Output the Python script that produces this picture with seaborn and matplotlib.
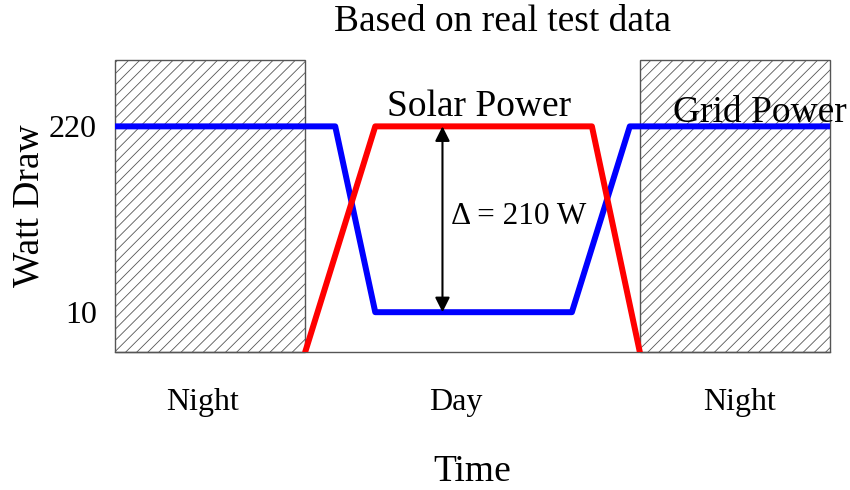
import matplotlib
matplotlib.use("Agg")
import matplotlib.pyplot as plt
import seaborn as sns
import pandas as pd
from matplotlib.patches import Rectangle

sns.set_theme(style="white")
plt.rcParams['font.family'] = ['Liberation Serif', 'DejaVu Serif']
plt.rcParams['text.color'] = 'black'
plt.rcParams['axes.labelcolor'] = 'black'
plt.rcParams['xtick.color'] = 'black'
plt.rcParams['ytick.color'] = 'black'
plt.rcParams['hatch.linewidth'] = 0.6
plt.rcParams['hatch.color'] = '#333333'

# Data (time on an arbitrary 0-100 scale, watts)
grid_time = [0, 30.8, 36.4, 63.9, 72.0, 100]
grid_watts = [220, 220, 10, 10, 220, 220]
solar_time = [26.6, 36.4, 66.7, 73.4]
solar_watts = [-35, 220, 220, -35]
night_spans = [(0, 26.6), (73.4, 100)]
period_labels = ["Night", "Day", "Night"]
period_pos = [12.2, 47.6, 87.4]
ytick_vals = [10, 220]

fig = plt.figure(figsize=(8.5, 4.9), dpi=100)
ax = fig.add_axes([115/850, 1-352/490, 715/850, 292/490])

for x0, x1 in night_spans:
    ax.add_patch(Rectangle((x0, -35), x1 - x0, 330, facecolor='white',
                           edgecolor='#555555', hatch='///', linewidth=1.0,
                           zorder=1, clip_on=False))

df_grid = pd.DataFrame({"t": grid_time, "w": grid_watts})
df_solar = pd.DataFrame({"t": solar_time, "w": solar_watts})
sns.lineplot(data=df_grid, x="t", y="w", ax=ax, color=(0, 0, 1), lw=4.3,
             sort=False, estimator=None, zorder=3)
sns.lineplot(data=df_solar, x="t", y="w", ax=ax, color=(1, 0, 0), lw=4.3,
             sort=False, estimator=None, zorder=4)

ax.annotate('', xy=(45.8, 10), xytext=(45.8, 220),
            arrowprops=dict(arrowstyle='<|-|>', color='black', lw=1.5,
                            mutation_scale=22, shrinkA=0, shrinkB=0), zorder=5)
ax.text(47.0, 118.5, "Δ = 210 W", fontsize=22.5, va='center', ha='left', zorder=6)
ax.text(38.0, 232, "Solar Power", fontsize=27, ha='left', va='baseline', zorder=6)
ax.text(78.0, 225, "Grid Power", fontsize=27, ha='left', va='baseline', zorder=6)

ax.set_xlim(0, 100)
ax.set_ylim(-35, 295)
ax.set_xticks(period_pos)
ax.set_xticklabels(period_labels, fontsize=23)
ax.set_yticks(ytick_vals)
ax.set_yticklabels([str(v) for v in ytick_vals], fontsize=23)
ax.tick_params(axis='x', length=0, pad=26)
ax.tick_params(axis='y', length=0, pad=13)
ax.set_xlabel("Time", fontsize=27, labelpad=27)
ax.set_ylabel("Watt Draw", fontsize=27, labelpad=2)
for s in ['top', 'left', 'right']:
    ax.spines[s].set_visible(False)
ax.spines['bottom'].set_color('#555555')
ax.spines['bottom'].set_linewidth(1.0)
ax.grid(False)

fig.text(502/850, 1-22/490, "Based on real test data", fontsize=27,
         ha='center', va='center')

fig.savefig("out.png", dpi=100)
